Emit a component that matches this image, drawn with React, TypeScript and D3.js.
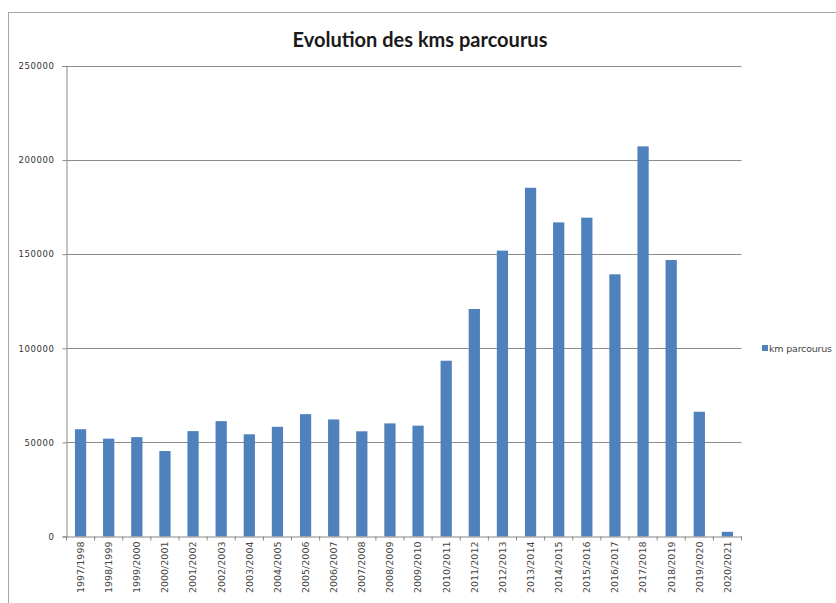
import React, { useEffect, useRef } from 'react';
import * as d3 from 'd3';

const seasons = [
  '1997/1998', '1998/1999', '1999/2000', '2000/2001', '2001/2002', '2002/2003',
  '2003/2004', '2004/2005', '2005/2006', '2006/2007', '2007/2008', '2008/2009',
  '2009/2010', '2010/2011', '2011/2012', '2012/2013', '2013/2014', '2014/2015',
  '2015/2016', '2016/2017', '2017/2018', '2018/2019', '2019/2020', '2020/2021',
];
const kms = [
  57000, 52000, 52800, 45400, 56000, 61300,
  54300, 58300, 65000, 62200, 55900, 60100,
  58900, 93400, 120900, 151900, 185300, 166900,
  169400, 139300, 207300, 146900, 66300, 2500,
];
const yTicks = [0, 50000, 100000, 150000, 200000, 250000];
const seriesName = 'km parcourus';

const App: React.FC = () => {
  const ref = useRef<SVGSVGElement | null>(null);

  useEffect(() => {
    if (!ref.current) return;
    const svg = d3.select(ref.current);
    svg.selectAll('*').remove();

    const left = 66.5, right = 741.5, top = 66, bottom = 536.5;

    // outer chart frame
    svg.append('rect')
      .attr('x', 8.5).attr('y', 12.5)
      .attr('width', 900).attr('height', 700)
      .attr('fill', 'white')
      .attr('stroke', '#a6a6a6');

    svg.append('text')
      .attr('x', 420).attr('y', 47)
      .attr('text-anchor', 'middle')
      .style('font-family', 'Lato, sans-serif')
      .style('font-weight', 'bold')
      .style('font-size', '20px')
      .style('fill', '#1a1a1a')
      .text('Evolution des kms parcourus');

    const x = d3.scaleBand().domain(seasons).range([left, right]).padding(0);
    const y = d3.scaleLinear().domain([0, 250000]).range([bottom, top]);

    // gridlines
    svg.append('g')
      .selectAll('line')
      .data(yTicks.filter(t => t > 0))
      .enter().append('line')
      .attr('x1', left).attr('x2', right)
      .attr('y1', d => Math.round(y(d)) + 0.5).attr('y2', d => Math.round(y(d)) + 0.5)
      .attr('stroke', '#8c8c8c');

    // bars (gap width 150%)
    const bw = x.bandwidth() * 0.4;
    svg.append('g')
      .selectAll('rect')
      .data(kms)
      .enter().append('rect')
      .attr('x', (d, i) => (x(seasons[i]) as number) + (x.bandwidth() - bw) / 2)
      .attr('y', d => y(d))
      .attr('width', bw)
      .attr('height', d => y(0) - y(d))
      .attr('fill', '#4f81bd');

    // y axis
    const yAxis = svg.append('g')
      .attr('transform', `translate(${left},0)`)
      .call(d3.axisLeft(y).tickValues(yTicks).tickSize(4).tickPadding(8).tickFormat(d3.format('d')));
    yAxis.select('.domain').attr('stroke', '#868686');
    yAxis.selectAll('.tick line').attr('stroke', '#868686');
    yAxis.selectAll('text')
      .style('font-family', 'DejaVu Sans, sans-serif')
      .style('font-size', '8.5px')
      .style('letter-spacing', '0.6px')
      .style('fill', '#333');

    // x axis
    const xAxis = svg.append('g')
      .attr('transform', `translate(0,${bottom})`)
      .call(d3.axisBottom(x).tickSize(0).tickSizeOuter(0));
    xAxis.select('.domain').attr('stroke', '#868686');
    xAxis.selectAll('text')
      .attr('transform', 'rotate(-90)')
      .attr('x', -5).attr('y', 0).attr('dy', '0.35em')
      .style('text-anchor', 'end')
      .style('font-family', 'DejaVu Sans, sans-serif')
      .style('font-size', '9.5px')
      .style('fill', '#444');
    // tick marks between categories
    xAxis.append('g')
      .selectAll('line')
      .data(d3.range(seasons.length + 1))
      .enter().append('line')
      .attr('x1', i => left + i * x.step()).attr('x2', i => left + i * x.step())
      .attr('y1', 0).attr('y2', 4)
      .attr('stroke', '#868686');

    // legend
    svg.append('rect')
      .attr('x', 762).attr('y', 345)
      .attr('width', 6).attr('height', 6)
      .attr('fill', '#4f81bd');
    svg.append('text')
      .attr('x', 769).attr('y', 351.5)
      .style('font-family', 'DejaVu Sans, sans-serif')
      .style('font-size', '9.5px')
      .style('letter-spacing', '-0.2px')
      .style('fill', '#444')
      .text(seriesName);
  }, []);

  return (
    <svg ref={ref} width={836} height={603}
      style={{ position: 'absolute', left: 0, top: 0, background: 'white' }} />
  );
};

export default App;
